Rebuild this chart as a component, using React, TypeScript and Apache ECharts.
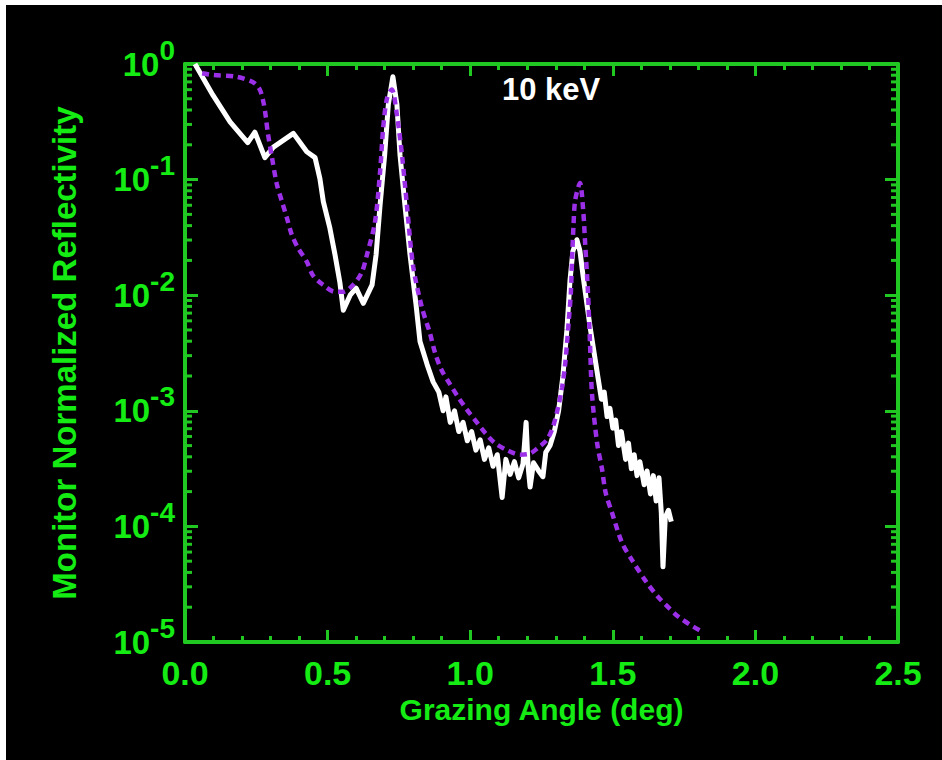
import React, { useEffect, useRef } from "react";
import * as echarts from "echarts";

// Measured reflectivity (white)
const measuredAngle = [
  0.035, 0.098, 0.158, 0.22, 0.245, 0.28, 0.31, 0.38, 0.427, 0.456, 0.473, 0.485, 0.508, 0.526, 0.543, 0.555,
  0.579, 0.6, 0.625, 0.656, 0.67, 0.684, 0.7, 0.713, 0.729, 0.743, 0.754, 0.771, 0.789, 0.81, 0.824, 0.849,
  0.87, 0.89, 0.905, 0.915, 0.93, 0.945, 0.96, 0.975, 0.99, 1.005, 1.02, 1.035, 1.05, 1.065, 1.08, 1.095,
  1.112, 1.125, 1.14, 1.155, 1.17, 1.185, 1.196, 1.203, 1.21, 1.222, 1.24, 1.255, 1.265, 1.28, 1.295, 1.31,
  1.325, 1.339, 1.35, 1.36, 1.374, 1.385, 1.396, 1.42, 1.448, 1.46, 1.47, 1.48, 1.49, 1.5, 1.51, 1.52,
  1.53, 1.545, 1.555, 1.565, 1.575, 1.585, 1.595, 1.61, 1.62, 1.632, 1.642, 1.652, 1.662, 1.67, 1.676, 1.684,
  1.695, 1.705,
];
const measuredRefl = [
  1.0, 0.537, 0.316, 0.209, 0.257, 0.155, 0.191, 0.251, 0.174, 0.155, 0.102, 0.0646, 0.038, 0.0224, 0.0129, 0.00741,
  0.01, 0.0115, 0.00851, 0.0123, 0.0224, 0.0603, 0.162, 0.447, 0.776, 0.447, 0.162, 0.0603, 0.0224, 0.00832, 0.00398, 0.00251,
  0.00178, 0.00145, 0.001, 0.00132, 0.000794, 0.001, 0.000661, 0.000794, 0.00055, 0.000661, 0.000457, 0.000562, 0.00038, 0.000479, 0.000331, 0.000417,
  0.000178, 0.00038, 0.000282, 0.000363, 0.000263, 0.000347, 0.000794, 0.000331, 0.000219, 0.000355, 0.000302, 0.000269, 0.000437, 0.000501, 0.000661, 0.001,
  0.002, 0.00501, 0.0135, 0.024, 0.0302, 0.024, 0.0145, 0.00537, 0.00195, 0.00126, 0.00145, 0.000891, 0.00105, 0.000708, 0.000832, 0.000501,
  0.000661, 0.00038, 0.000525, 0.000316, 0.000417, 0.000275, 0.000363, 0.000229, 0.000302, 0.000191, 0.000275, 0.000166, 0.000263, 0.000132, 0.0000447, 0.00012,
  0.000138, 0.00011,
];

// Model fit (purple dotted)
const fitAngle = [
  0.06, 0.098, 0.18, 0.24, 0.262, 0.275, 0.283, 0.29, 0.305, 0.322, 0.34, 0.357, 0.375, 0.396, 0.427, 0.449,
  0.484, 0.526, 0.554, 0.59, 0.62, 0.638, 0.666, 0.684, 0.695, 0.708, 0.725, 0.743, 0.761, 0.778, 0.8, 0.83,
  0.859, 0.877, 0.9, 0.929, 0.957, 0.989, 1.017, 1.052, 1.087, 1.129, 1.175, 1.21, 1.238, 1.269, 1.29, 1.308,
  1.322, 1.332, 1.339, 1.346, 1.353, 1.357, 1.362, 1.368, 1.385, 1.396, 1.403, 1.413, 1.42, 1.427, 1.445, 1.462,
  1.475, 1.497, 1.532, 1.567, 1.62, 1.659, 1.694, 1.729, 1.771, 1.813,
];
const fitRefl = [
  0.832, 0.804, 0.776, 0.692, 0.603, 0.468, 0.355, 0.257, 0.155, 0.0912, 0.0646, 0.0468, 0.0331, 0.0257, 0.0195, 0.0148,
  0.0123, 0.0107, 0.0107, 0.0123, 0.0158, 0.0224, 0.0427, 0.117, 0.282, 0.501, 0.603, 0.363, 0.162, 0.0603, 0.0178, 0.00794,
  0.00468, 0.00316, 0.00224, 0.0017, 0.00132, 0.00102, 0.000832, 0.000646, 0.000525, 0.000457, 0.000417, 0.000427, 0.000479, 0.000562, 0.000724, 0.00107,
  0.00158, 0.0024, 0.00372, 0.00617, 0.0105, 0.02, 0.0389, 0.0661, 0.0933, 0.055, 0.0282, 0.0105, 0.00389, 0.00141, 0.000525, 0.000316,
  0.000195, 0.000132, 0.0000724, 0.0000513, 0.0000324, 0.0000245, 0.00002, 0.0000166, 0.0000141, 0.0000123,
];

const xTickLabels = ["0.0", "0.5", "1.0", "1.5", "2.0", "2.5"];
const yDecades = [1e-5, 1e-4, 1e-3, 1e-2, 1e-1];
const yMinorMultipliers = [2, 3, 4, 5, 6, 7, 8, 9];

const AXIS_GREEN = "#22c822";
const TEXT_GREEN = "#14ec14";
const FONT = "'Liberation Sans', Arial, sans-serif";

export default function App() {
  const ref = useRef<HTMLDivElement>(null);

  useEffect(() => {
    if (!ref.current) return;
    const chart = echarts.init(ref.current, undefined, { renderer: "svg" });

    const minorTickData: number[][] = [];
    yDecades.forEach((d) => yMinorMultipliers.forEach((m) => minorTickData.push([0, d * m])));

    const xAxisBase = {
      type: "value",
      min: 0,
      max: 2.5,
      interval: 0.5,
      splitLine: { show: false },
      axisLine: { show: true, onZero: false, lineStyle: { color: AXIS_GREEN, width: 4 } },
      axisTick: { show: true, inside: true, length: 12, lineStyle: { color: AXIS_GREEN, width: 3 } },
      minorTick: { show: true, splitNumber: 5, length: 6, lineStyle: { color: AXIS_GREEN, width: 3 } },
    };
    const yAxisBase = {
      type: "log",
      logBase: 10,
      min: 1e-5,
      max: 1,
      splitLine: { show: false },
      axisLine: { show: true, onZero: false, lineStyle: { color: AXIS_GREEN, width: 4 } },
      axisTick: { show: true, inside: true, length: 13, lineStyle: { color: AXIS_GREEN, width: 3 } },
    };

    chart.setOption({
      animation: false,
      backgroundColor: "#000000",
      title: {
        text: "10 keV",
        left: 491,
        top: 64,
        textStyle: { color: "#ffffff", fontSize: 31, fontWeight: "bold", fontFamily: FONT },
      },
      grid: { left: 179, top: 59, width: 713, height: 578, show: false },
      xAxis: [
        {
          ...xAxisBase,
          position: "bottom",
          name: "Grazing Angle (deg)",
          nameLocation: "middle",
          nameGap: 52,
          nameTextStyle: { color: TEXT_GREEN, fontSize: 30, fontWeight: "bold", fontFamily: FONT },
          axisLabel: {
            color: TEXT_GREEN,
            fontSize: 34,
            fontWeight: "bold",
            fontFamily: FONT,
            margin: 14,
            formatter: (v: number) => xTickLabels[Math.round(v / 0.5)] ?? "",
          },
        },
        { ...xAxisBase, position: "top", axisLabel: { show: false } },
      ],
      yAxis: [
        {
          ...yAxisBase,
          position: "left",
          name: "Monitor Normalized Reflectivity",
          nameLocation: "middle",
          nameGap: 104,
          nameTextStyle: { color: TEXT_GREEN, fontSize: 33, fontWeight: "bold", fontFamily: FONT },
          axisLabel: {
            margin: 10,
            formatter: (v: number) => {
              const e = Math.round(Math.log10(v));
              return `{b|10}{s|${e}}`;
            },
            rich: {
              b: { color: TEXT_GREEN, fontSize: 33, fontWeight: "bold", fontFamily: FONT },
              s: { color: TEXT_GREEN, fontSize: 28, fontWeight: "bold", fontFamily: FONT, padding: [0, 0, 28, 0] },
            },
          },
        },
        { ...yAxisBase, position: "right", axisLabel: { show: false } },
      ],
      series: [
        {
          type: "custom",
          name: "yMinorTicks",
          xAxisIndex: 0,
          yAxisIndex: 0,
          silent: true,
          clip: false,
          data: minorTickData,
          renderItem: (_params: any, api: any) => {
            const v = api.value(1);
            const pL = api.coord([0, v]);
            const pR = api.coord([2.5, v]);
            return {
              type: "group",
              children: [
                {
                  type: "line",
                  shape: { x1: pL[0], y1: pL[1], x2: pL[0] + 7, y2: pL[1] },
                  style: { stroke: AXIS_GREEN, lineWidth: 3 },
                },
                {
                  type: "line",
                  shape: { x1: pR[0], y1: pR[1], x2: pR[0] - 7, y2: pR[1] },
                  style: { stroke: AXIS_GREEN, lineWidth: 3 },
                },
              ],
            };
          },
        },
        {
          type: "line",
          name: "Measured",
          xAxisIndex: 0,
          yAxisIndex: 0,
          data: measuredAngle.map((a, i) => [a, measuredRefl[i]]),
          showSymbol: false,
          symbol: "none",
          lineStyle: { color: "#ffffff", width: 5, join: "round" },
          z: 3,
        },
        {
          type: "line",
          name: "Fit",
          xAxisIndex: 0,
          yAxisIndex: 0,
          data: fitAngle.map((a, i) => [a, fitRefl[i]]),
          showSymbol: false,
          symbol: "none",
          smooth: 0.3,
          lineStyle: { color: "#9b30e8", width: 4.5, type: [7, 5] },
          z: 4,
        },
      ],
    });

    return () => chart.dispose();
  }, []);

  return (
    <div style={{ position: "fixed", left: 0, top: 0, width: 942, height: 760, background: "#ffffff" }}>
      <div ref={ref} style={{ position: "absolute", left: 6, top: 5, width: 936, height: 755 }} />
    </div>
  );
}
